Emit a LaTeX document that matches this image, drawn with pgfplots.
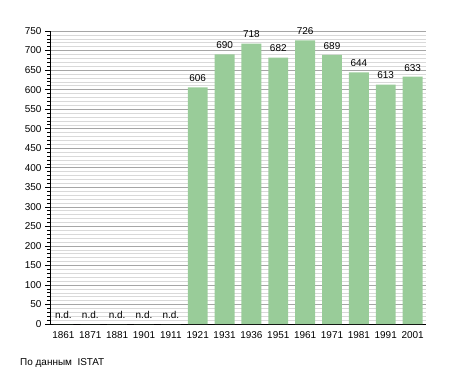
\documentclass[border=0pt]{standalone}
\usepackage{pgfplots}
\pgfplotsset{compat=1.18}
\usepackage{fontspec}
\setmainfont{Liberation Sans}
\definecolor{bargreen}{RGB}{153,204,153}
\begin{document}
\begin{tikzpicture}[x=1bp,y=1bp]
\useasboundingbox (0,0) rectangle (455,373);
\begin{axis}[
  at={(50bp,49bp)}, anchor=south west,
  scale only axis, width=376bp, height=293bp,
  xmin=-0.5, xmax=13.5, ymin=0, ymax=750,
  axis x line=bottom, axis y line=left,
  axis line style={-, black, line width=0.8pt},
  xtick={0,...,13},
  xticklabels={1861,1871,1881,1901,1911,1921,1931,1936,1951,1961,1971,1981,1991,2001},
  x tick style={draw=none},
  ytick={0,50,...,750},
  minor y tick num=4,
  tick align=outside,
  major tick length=5bp, minor tick length=3bp,
  y tick style={black, line width=0.6pt},
  ymajorgrids, yminorgrids,
  major grid style={draw=black!35, line width=0.6pt},
  minor grid style={draw=black!15, line width=0.5pt},
  tick label style={font=\fontsize{10}{12}\selectfont},
  /pgf/number format/assume math mode=true,
  /pgf/number format/1000 sep={},
  xticklabel style={yshift=1bp},
  ybar, bar width=0.74, bar shift=0pt,
  nodes near coords, point meta=explicit symbolic,
  every node near coord/.append style={font=\fontsize{10}{12}\selectfont, yshift=2bp},
  clip=false,
]
\addplot[fill=bargreen, draw=none] table[meta=label] {
x y label
0 0 n.d.
1 0 n.d.
2 0 n.d.
3 0 n.d.
4 0 n.d.
5 606 606
6 690 690
7 718 718
8 682 682
9 726 726
10 689 689
11 644 644
12 613 613
13 633 633
};
\end{axis}
\node[anchor=base west, font=\fontsize{10}{12}\selectfont, inner sep=0] at (20bp,8bp) {По данным\ \ ISTAT};
\end{tikzpicture}
\end{document}
